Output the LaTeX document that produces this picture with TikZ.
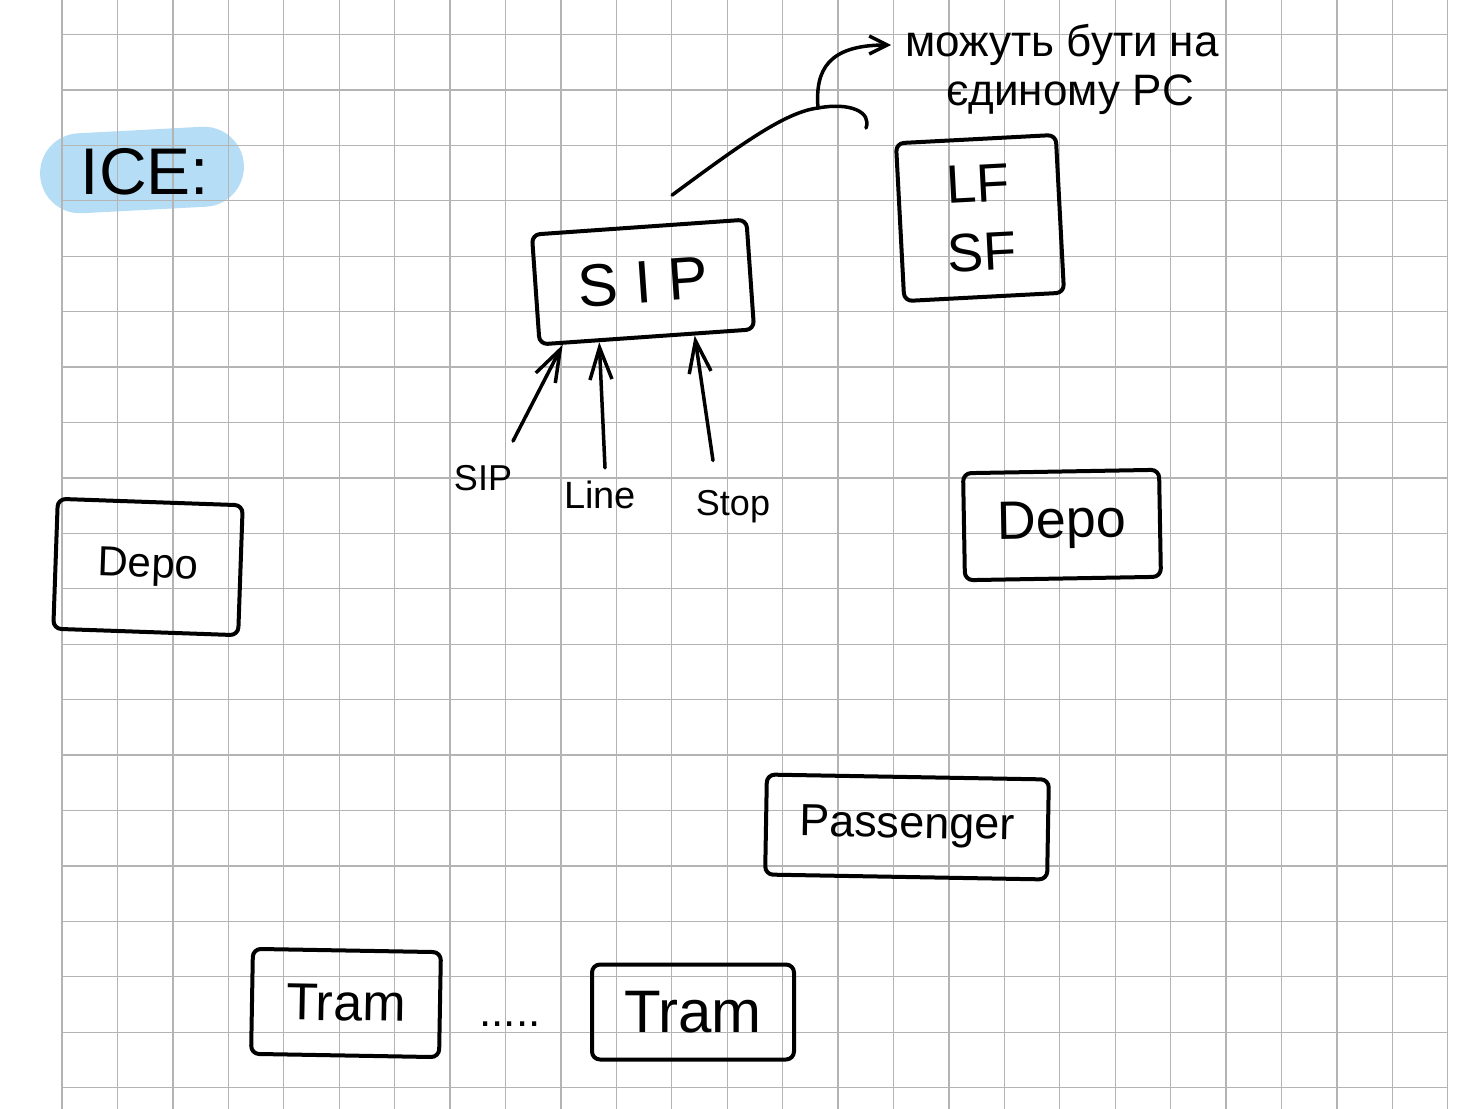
\documentclass[tikz,border=0pt]{standalone}
\usepackage{fontspec}
\setmainfont{Liberation Sans}
\usetikzlibrary{arrows.meta}
\definecolor{gridc}{HTML}{B4B4B4}
\definecolor{iceblue}{HTML}{B5DDF6}
\begin{document}
\begin{tikzpicture}[x=1pt,y=-1pt,
  hbox/.style={draw=black, line width=4pt, rounded corners=8pt, inner sep=0pt, line join=round},
  txt/.style={inner sep=0pt, align=center},
  hand/.style={line width=3.5pt, line cap=round, line join=round},
  up/.style={hand, -{Straight Barb[length=32pt,width=22pt,line width=3.5pt]}},
  gridline/.style={draw=gridc, line width=1.3pt},
]
\useasboundingbox (0,0) rectangle (1460,1109);
\fill[white] (0,0) rectangle (1460,1109);
% highlighter blob behind ICE
\fill[iceblue, rotate around={3:(142,170)}, rounded corners=40pt] (40,130) rectangle (244,210);
% grid
\foreach \i in {0,...,25}
  \draw[gridline] ({62+55.43*\i},0) -- ({62+55.43*\i},1109);
\foreach \j in {0,...,19}
  \draw[gridline] (62,{34.5+55.43*\j}) -- (1447.7,{34.5+55.43*\j});

% title
\node[txt, font=\fontsize{66}{66}\selectfont] (ice) at (145,172) {ICE:};

% boxes
\node[hbox, minimum width=215pt, minimum height=110pt, rotate=4, font=\fontsize{60}{60}\selectfont] (sip) at (643,282) {S I P};
\node[hbox, minimum width=160pt, minimum height=158pt, rotate=3, align=center, font=\fontsize{54}{68}\selectfont] (lfsf) at (980,218) {LF\\SF};
\node[hbox, minimum width=185pt, minimum height=130pt, rotate=-2, font=\fontsize{42}{42}\selectfont] (depoL) at (148,567) {Depo};
\node[hbox, minimum width=196pt, minimum height=107pt, rotate=1, font=\fontsize{54}{54}\selectfont] (depoR) at (1062,525) {Depo};
\node[hbox, minimum width=282pt, minimum height=100pt, rotate=-1, font=\fontsize{45}{45}\selectfont] (pass) at (907,827) {Passenger};
\node[hbox, minimum width=188pt, minimum height=105pt, rotate=-1, font=\fontsize{52}{52}\selectfont] (tramL) at (346,1003) {Tram};
\node[txt, font=\fontsize{44}{44}\selectfont] (dots) at (510,1024) {.....};
\node[hbox, minimum width=202pt, minimum height=95pt, font=\fontsize{60}{60}\selectfont] (tramR) at (693,1012) {Tram};

% input labels
\node[txt, font=\fontsize{36}{36}\selectfont] (lsip) at (483,478) {SIP};
\node[txt, font=\fontsize{38}{38}\selectfont] (lline) at (600,495) {Line};
\node[txt, font=\fontsize{36}{36}\selectfont] (lstop) at (733,507) {Stop};

\draw[up] ([xshift=30pt,yshift=24pt]lsip.north) -- (sip.-146);
\draw[up] ([xshift=5pt,yshift=13pt]lline.north) -- (sip.-130);
\draw[up] ([xshift=-20pt,yshift=30pt]lstop.north) -- (sip.-50);

% annotation
\node[txt, font=\fontsize{44}{44}\selectfont] (note1) at (1062,45) {можуть бути на};
\node[txt, font=\fontsize{44}{44}\selectfont] (note2) at (1070,95) {єдиному PC};
\coordinate (kink) at (818,108);
\coordinate (curlend) at (866,128);
\draw[hand] ([shift={(33,-30)}]sip.north) .. controls (740,145) and (785,112) .. (kink)
  .. controls (850,102) and (872,112) .. (curlend);
\draw[hand, -{Straight Barb[length=18pt,width=18pt,line width=3.5pt]}, shorten >=14pt]
  (kink) .. controls (815,70) and (828,45) .. (note1.west);
\end{tikzpicture}
\end{document}
